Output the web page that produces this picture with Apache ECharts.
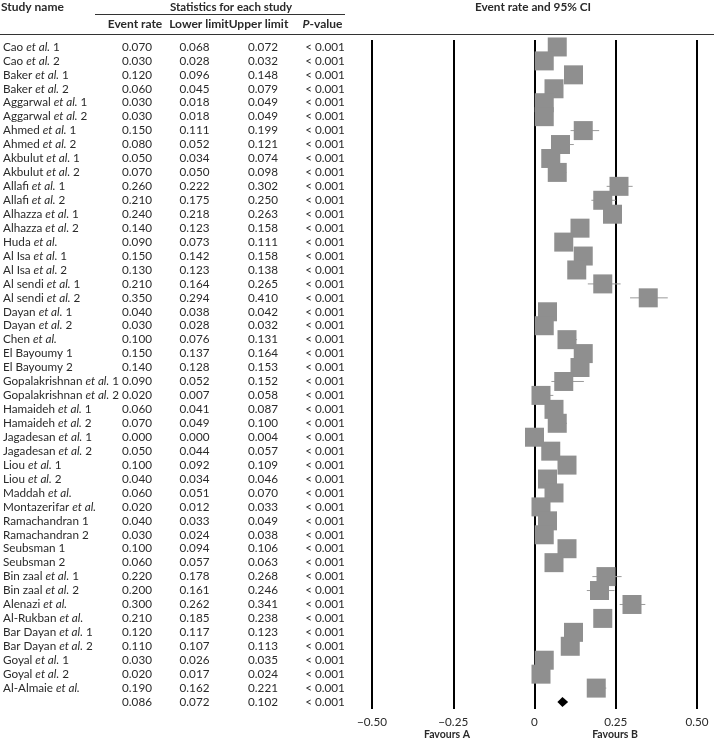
<!DOCTYPE html>
<html>
<head>
<meta charset="utf-8">
<script src="https://cdn.jsdelivr.net/npm/echarts@6/dist/echarts.min.js"></script>
<style>
html,body{margin:0;padding:0;background:#fff;}
#chart{width:714px;height:739px;}
</style>
</head>
<body>
<div id="chart"></div>
<script>
const studies = [
  'Cao et al. 1','Cao et al. 2','Baker et al. 1','Baker et al. 2','Aggarwal et al. 1','Aggarwal et al. 2',
  'Ahmed et al. 1','Ahmed et al. 2','Akbulut et al. 1','Akbulut et al. 2','Allafi et al. 1','Allafi et al. 2',
  'Alhazza et al. 1','Alhazza et al. 2','Huda et al.','Al Isa et al. 1','Al Isa et al. 2','Al sendi et al. 1',
  'Al sendi et al. 2','Dayan et al. 1','Dayan et al. 2','Chen et al.','El Bayoumy 1','El Bayoumy 2',
  'Gopalakrishnan et al. 1','Gopalakrishnan et al. 2','Hamaideh et al. 1','Hamaideh et al. 2',
  'Jagadesan et al. 1','Jagadesan et al. 2','Liou et al. 1','Liou et al. 2','Maddah et al.','Montazerifar et al.',
  'Ramachandran 1','Ramachandran 2','Seubsman 1','Seubsman 2','Bin zaal et al. 1','Bin zaal et al. 2',
  'Alenazi et al.','Al-Rukban et al.','Bar Dayan et al. 1','Bar Dayan et al. 2','Goyal et al. 1','Goyal et al. 2',
  'Al-Almaie et al.'
];
const eventRate = [0.070,0.030,0.120,0.060,0.030,0.030,0.150,0.080,0.050,0.070,0.260,0.210,0.240,0.140,0.090,0.150,0.130,0.210,0.350,0.040,0.030,0.100,0.150,0.140,0.090,0.020,0.060,0.070,0.000,0.050,0.100,0.040,0.060,0.020,0.040,0.030,0.100,0.060,0.220,0.200,0.300,0.210,0.120,0.110,0.030,0.020,0.190];
const lowerLimit = [0.068,0.028,0.096,0.045,0.018,0.018,0.111,0.052,0.034,0.050,0.222,0.175,0.218,0.123,0.073,0.142,0.123,0.164,0.294,0.038,0.028,0.076,0.137,0.128,0.052,0.007,0.041,0.049,0.000,0.044,0.092,0.034,0.051,0.012,0.033,0.024,0.094,0.057,0.178,0.161,0.262,0.185,0.117,0.107,0.026,0.017,0.162];
const upperLimit = [0.072,0.032,0.148,0.079,0.049,0.049,0.199,0.121,0.074,0.098,0.302,0.250,0.263,0.158,0.111,0.158,0.138,0.265,0.410,0.042,0.032,0.131,0.164,0.153,0.152,0.058,0.087,0.100,0.004,0.057,0.109,0.046,0.070,0.033,0.049,0.038,0.106,0.063,0.268,0.246,0.341,0.238,0.123,0.113,0.035,0.024,0.221];
const pValues = studies.map(() => '< 0.001');
const summaryRate = 0.086;
const summaryLower = 0.072;
const summaryUpper = 0.102;
const summaryP = '< 0.001';
const xTicks = [-0.5, -0.25, 0, 0.25, 0.5];
const xTickLabels = ['\u22120.50', '\u22120.25', '0', '0.25', '0.50'];

const fmt = v => v.toFixed(3);
const nameCol = studies.concat(['']);
const rateCol = eventRate.map(fmt).concat([fmt(summaryRate)]);
const lowCol = lowerLimit.map(fmt).concat([fmt(summaryLower)]);
const upCol = upperLimit.map(fmt).concat([fmt(summaryUpper)]);
const pCol = pValues.concat([summaryP]);
const nRows = nameCol.length;

const FONT = 'Lato';
const TXT = '#2a2a2a';
const FS = 11.7;
const GRID_LEFT = 370, GRID_RIGHT = 17, GRID_TOP = 40, GRID_BOTTOM = 30;

function colAxis(data, align, margin, rich) {
  return {
    type: 'category', gridIndex: 0, inverse: true, position: 'left', data: data,
    axisLine: {show: false}, axisTick: {show: false}, splitLine: {show: false},
    axisLabel: {
      interval: 0, align: align, margin: margin, color: TXT, fontFamily: FONT, fontSize: FS,
      formatter: rich ? (v => v.replace('et al.', '{i|et al.}')) : undefined,
      rich: rich ? {i: {fontStyle: 'italic', fontFamily: FONT, fontSize: FS, color: TXT}} : undefined
    }
  };
}

const chart = echarts.init(document.getElementById('chart'), null, {renderer: 'canvas'});

const headerStyle = (text, x, y, weight, size, align) => ({
  type: 'text', x: x, y: y,
  style: {text: text, fill: TXT, font: weight + ' ' + size + 'px "' + FONT + '"', textAlign: align, textVerticalAlign: 'middle'}
});

chart.setOption({
  animation: false,
  grid: {left: GRID_LEFT, right: GRID_RIGHT, top: GRID_TOP, bottom: GRID_BOTTOM},
  xAxis: {
    type: 'value', min: -0.5, max: 0.5, interval: 0.25,
    axisLine: {show: false}, axisTick: {show: false},
    splitLine: {show: true, lineStyle: {color: '#000', width: 2}},
    axisLabel: {
      margin: 7, color: TXT, fontFamily: FONT, fontSize: 11.7,
      formatter: v => { const i = xTicks.findIndex(t => Math.abs(t - v) < 1e-9); return i >= 0 ? xTickLabels[i] : ''; }
    }
  },
  yAxis: [
    colAxis(nameCol, 'left', GRID_LEFT - 1, true),
    colAxis(rateCol, 'center', GRID_LEFT - 135, false),
    colAxis(lowCol, 'center', GRID_LEFT - 192.5, false),
    colAxis(upCol, 'center', GRID_LEFT - 261, false),
    colAxis(pCol, 'center', GRID_LEFT - 323, false)
  ],
  graphic: [
    headerStyle('Study name', 1, 7, 'bold', 12, 'left'),
    headerStyle('Statistics for each study', 231, 7, 'bold', 11.5, 'center'),
    {type: 'line', shape: {x1: 95, y1: 14.5, x2: 345, y2: 14.5}, style: {stroke: '#333', lineWidth: 1}},
    headerStyle('Event rate', 135, 24.5, 'bold', 12, 'center'),
    headerStyle('Lower limit', 199, 24.5, 'bold', 12, 'center'),
    headerStyle('Upper limit', 258.5, 24.5, 'bold', 12, 'center'),
    {type: 'text', x: 322.5, y: 24.5, style: {
      text: '{p|P}-value', textAlign: 'center', textVerticalAlign: 'middle', fill: TXT,
      font: 'bold 12px "' + FONT + '"',
      rich: {p: {fontStyle: 'italic', fontWeight: 'bold', fontFamily: FONT, fontSize: 12, fill: TXT}}
    }},
    headerStyle('Event rate and 95% CI', 533, 7, 'bold', 11.8, 'center'),
    {type: 'line', shape: {x1: 0, y1: 34.5, x2: 714, y2: 34.5}, style: {stroke: '#333', lineWidth: 1}},
    headerStyle('Favours A', 447, 735, 'bold', 10.5, 'center'),
    headerStyle('Favours B', 615, 735, 'bold', 10.5, 'center')
  ],
  series: [
    {
      type: 'custom', xAxisIndex: 0, yAxisIndex: 0, silent: true,
      data: lowerLimit.map((l, i) => [l, upperLimit[i], i]),
      renderItem: (params, api) => {
        const a = api.coord([api.value(0), api.value(2)]);
        const b = api.coord([api.value(1), api.value(2)]);
        return {type: 'line', shape: {x1: a[0], y1: a[1], x2: b[0], y2: b[1]}, style: {stroke: '#9a9a9a', lineWidth: 1}};
      }
    },
    {
      type: 'scatter', xAxisIndex: 0, yAxisIndex: 0, silent: true,
      symbol: 'rect', symbolSize: 19,
      itemStyle: {color: '#8f8f8f', opacity: 1},
      data: eventRate.map((r, i) => [r, i])
    },
    {
      type: 'custom', xAxisIndex: 0, yAxisIndex: 0, silent: true,
      data: [[summaryLower, summaryUpper, summaryRate, nRows - 1]],
      renderItem: (params, api) => {
        const l = api.coord([api.value(0), api.value(3)]);
        const u = api.coord([api.value(1), api.value(3)]);
        const c = api.coord([api.value(2), api.value(3)]);
        const h = 5;
        return {type: 'polygon', shape: {points: [[l[0] - 0.5, l[1]], [c[0], c[1] - h], [u[0] + 0.5, u[1]], [c[0], c[1] + h]]}, style: {fill: '#000'}};
      }
    }
  ]
});
</script>
</body>
</html>
